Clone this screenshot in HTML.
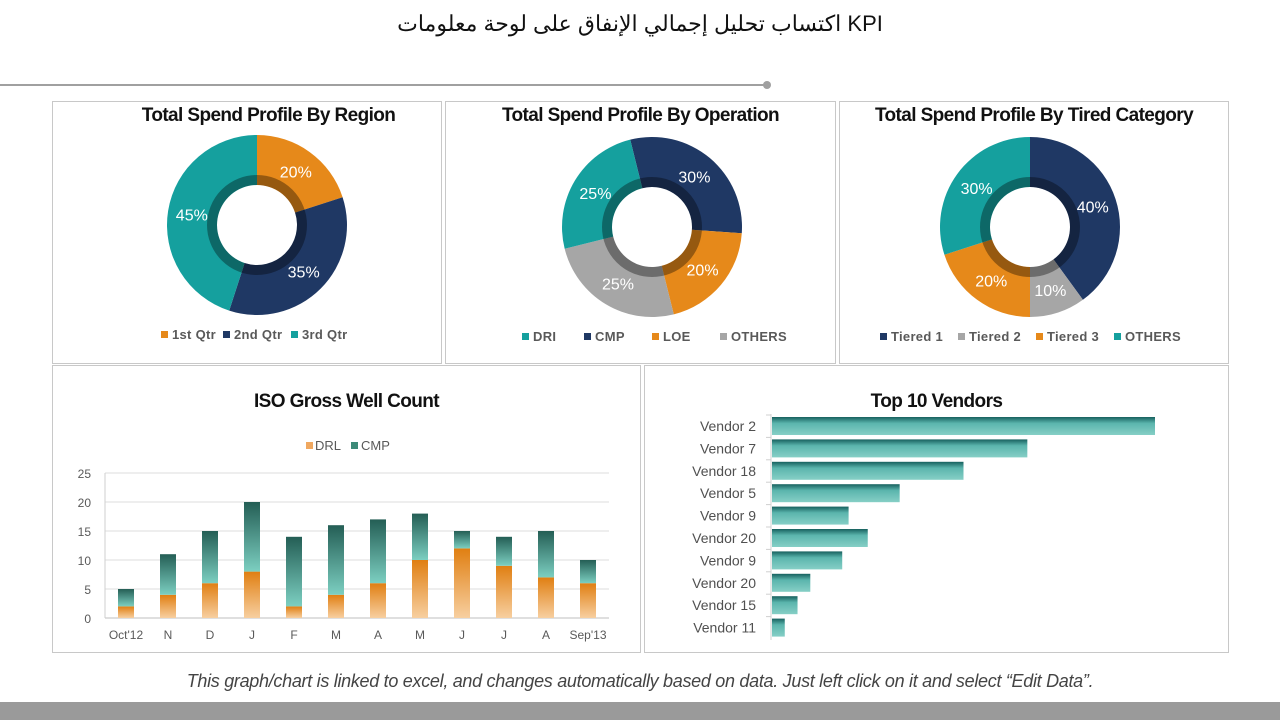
<!DOCTYPE html>
<html><head><meta charset="utf-8">
<style>
body{margin:0;width:1280px;height:720px;background:#fff;font-family:"Liberation Sans","Noto Sans CJK SC",sans-serif;position:relative;overflow:hidden}
.panel{position:absolute;border:1px solid #c8c8c8;background:#fff;box-sizing:border-box}
.ttl{position:absolute;left:0;right:0;text-align:center;font-weight:bold;font-size:19px;color:#111;letter-spacing:-0.6px}
svg{position:absolute;left:0;top:0}
</style></head><body>
<div style="position:absolute;left:0;width:1280px;top:11px;text-align:center;font-size:22px;color:#111;font-family:'Liberation Sans','Noto Sans CJK SC',sans-serif">اكتساب تحليل إجمالي الإنفاق على لوحة معلومات KPI</div>
<div style="position:absolute;left:0;top:84px;width:766px;height:2px;background:#a0a0a0"></div>
<div style="position:absolute;left:763px;top:81px;width:8px;height:8px;border-radius:50%;background:#a0a0a0"></div>

<div class="panel" style="left:52px;top:101px;width:390px;height:263px"><div class="ttl" style="top:3px;padding-left:43px">Total Spend Profile By Region</div></div>
<div class="panel" style="left:445px;top:101px;width:391px;height:263px"><div class="ttl" style="top:3px">Total Spend Profile By Operation</div></div>
<div class="panel" style="left:839px;top:101px;width:390px;height:263px"><div class="ttl" style="top:3px">Total Spend Profile By Tired Category</div></div>
<div class="panel" style="left:52px;top:365px;width:589px;height:288px"><div class="ttl" style="top:25px">ISO Gross Well Count</div></div>
<div class="panel" style="left:644px;top:365px;width:585px;height:288px"><div class="ttl" style="top:25px">Top 10 Vendors</div></div>

<svg id="main" width="1280" height="720">
<defs>
<linearGradient id="gDrl" x1="0" y1="0" x2="0" y2="1"><stop offset="0" stop-color="#e07f12"/><stop offset="1" stop-color="#f7cfa0"/></linearGradient>
<linearGradient id="gCmp" x1="0" y1="0" x2="0" y2="1"><stop offset="0" stop-color="#245e55"/><stop offset="1" stop-color="#7ccfc1"/></linearGradient>
<linearGradient id="gVen" x1="0" y1="0" x2="0" y2="1"><stop offset="0" stop-color="#17605e"/><stop offset="0.35" stop-color="#5bb5ad"/><stop offset="1" stop-color="#86cfc6"/></linearGradient>
</defs>
</svg>

<div style="position:absolute;left:0;width:1280px;top:671px;text-align:center;font-style:italic;font-size:18px;letter-spacing:-0.3px;color:#444">This graph/chart is linked to excel, and changes automatically based on data. Just left click on it and select “Edit Data”.</div>
<div style="position:absolute;left:0;top:702px;width:1280px;height:18px;background:#9a9a9a"></div>

<script>
// Donut data
const regionLabels=["1st Qtr","2nd Qtr","3rd Qtr"];
const regionValues=[20,35,45];
const opLabels=["DRI","CMP","LOE","OTHERS"];
const opValues=[25,30,20,25];
const tierLabels=["Tiered 1","Tiered 2","Tiered 3","OTHERS"];
const tierValues=[40,10,20,30];
// Well count data
const months=["Oct'12","N","D","J","F","M","A","M","J","J","A","Sep'13"];
const drlValues=[2,4,6,8,2,4,6,10,12,9,7,6];
const cmpValues=[3,7,9,12,12,12,11,8,3,5,8,4];
const yTicks=[0,5,10,15,20,25];
// Vendors
const vendorNames=["Vendor 2","Vendor 7","Vendor 18","Vendor 5","Vendor 9","Vendor 20","Vendor 9","Vendor 20","Vendor 15","Vendor 11"];
const vendorValues=[30,20,15,10,6,7.5,5.5,3,2,1];

const NS="http://www.w3.org/2000/svg";
const svg=document.getElementById('main');
function mk(tag,attrs,parent){const e=document.createElementNS(NS,tag);for(const k in attrs)e.setAttribute(k,attrs[k]);(parent||svg).appendChild(e);return e;}
const C={teal:"#15a09e",navy:"#1f3864",orange:"#e6891a",gray:"#a6a6a6"};

function donut(cx,cy,vals,colors,startDeg,name,legendItems,legendX,legendY){
  const R=90,r=40,total=vals.reduce((a,b)=>a+b,0);
  let a=startDeg;
  vals.forEach((v,i)=>{
    const a2=a+v/total*360;
    const rad=d=>(d-90)*Math.PI/180;
    const p=(rr,d)=>[cx+rr*Math.cos(rad(d)),cy+rr*Math.sin(rad(d))];
    const [x1,y1]=p(R,a),[x2,y2]=p(R,a2),[x3,y3]=p(r,a2),[x4,y4]=p(r,a);
    const lg=(a2-a)>180?1:0;
    const s=mk('path',{d:`M${x1},${y1}A${R},${R} 0 ${lg} 1 ${x2},${y2}L${x3},${y3}A${r},${r} 0 ${lg} 0 ${x4},${y4}Z`,fill:colors[i]});
    
    
    const [tx,ty]=p(66,(a+a2)/2);
    const t=mk('text',{x:tx,y:ty+6,'text-anchor':'middle','font-size':16,fill:'#fff'});
    t.textContent=v+'%';
    
    
    a=a2;
  });
  const ring=mk('circle',{cx:cx,cy:cy,r:45,fill:'none',stroke:'rgba(0,0,0,0.35)','stroke-width':10});
  
  
  let lx=legendX;
  legendItems.forEach((lab,i)=>{
    const sq=mk('rect',{x:lx,y:legendY-8,width:7,height:7,fill:legendItems.colors[i]});
    
    
    const t=mk('text',{x:lx+11,y:legendY,'font-size':13,'font-weight':'bold',fill:'#595959','letter-spacing':'0.3'});
    t.textContent=lab;
    
    
    lx+=legendItems.gaps[i];
  });
}
const rl=regionLabels.slice();rl.colors=[C.orange,C.navy,C.teal];rl.gaps=[62,68,60];
donut(257,225,regionValues,[C.orange,C.navy,C.teal],0,'region',rl,161,339);
// operation ordered clockwise: CMP, LOE, OTHERS, DRI
const ol=opLabels.slice();ol.colors=[C.teal,C.navy,C.orange,C.gray];ol.gaps=[62,68,68,70];
donut(652,227,[opValues[1],opValues[2],opValues[3],opValues[0]],[C.navy,C.orange,C.gray,C.teal],-14,'operation',ol,522,341);
const tl=tierLabels.slice();tl.colors=[C.navy,C.gray,C.orange,C.teal];tl.gaps=[78,78,78,70];
donut(1030,227,tierValues,[C.navy,C.gray,C.orange,C.teal],0,'tiered',tl,880,341);

// Well count chart
const X0=105,X1=609,Y0=618,Y25=473;
const yS=v=>Y0-(v/25)*(Y0-Y25);
const step=(X1-X0)/months.length;
const xC=i=>X0+step*(i+0.5);
yTicks.forEach(t=>{
  const l=mk('line',{x1:X0,x2:X1,y1:yS(t),y2:yS(t),stroke:t===0?'#bfbfbf':'#dedede','stroke-width':1});
  
  
  const tx=mk('text',{x:91,y:yS(t)+5,'text-anchor':'end','font-size':12,fill:'#595959'});
  tx.textContent=t;
  
  
});
const ax=mk('line',{x1:X0,x2:X0,y1:Y25,y2:Y0,stroke:'#cfcfcf'});


months.forEach((m,i)=>{
  const bw=16,x=xC(i)-bw/2;
  const d=mk('rect',{x:x,y:yS(drlValues[i]),width:bw,height:Y0-yS(drlValues[i]),fill:'url(#gDrl)'});
  
  
  const top=drlValues[i]+cmpValues[i];
  const c=mk('rect',{x:x,y:yS(top),width:bw,height:yS(drlValues[i])-yS(top),fill:'url(#gCmp)'});
  
  
  const t=mk('text',{x:xC(i),y:639,'text-anchor':'middle','font-size':12,fill:'#595959'});
  t.textContent=m;
  
  
});
const lg1=mk('rect',{x:306,y:442,width:7,height:7,fill:'#f0a860'});


const lt1=mk('text',{x:315,y:450,'font-size':13,fill:'#595959'});lt1.textContent='DRL';


const lg2=mk('rect',{x:351,y:442,width:7,height:7,fill:'#3c8a78'});


const lt2=mk('text',{x:361,y:450,'font-size':13,fill:'#595959'});lt2.textContent='CMP';



// Vendors
const VX=772,VMAX=30,VW=383,VY0=417,VSTEP=22.4,VBH=18;
const vx=v=>v/VMAX*VW;
const vax=mk('line',{x1:771,x2:771,y1:414,y2:640,stroke:'#d0d0d0'});


vendorNames.forEach((n,i)=>{
  const y=VY0+i*VSTEP;
  const tk=mk('line',{x1:766,x2:771,y1:y-2,y2:y-2,stroke:'#d0d0d0'});
  
  
  const b=mk('rect',{x:VX,y:y,width:vx(vendorValues[i]),height:VBH,fill:'url(#gVen)'});
  
  
  const t=mk('text',{x:756,y:y+14,'text-anchor':'end','font-size':14,fill:'#505050'});
  t.textContent=n;
  
  
});
</script>
</body></html>
